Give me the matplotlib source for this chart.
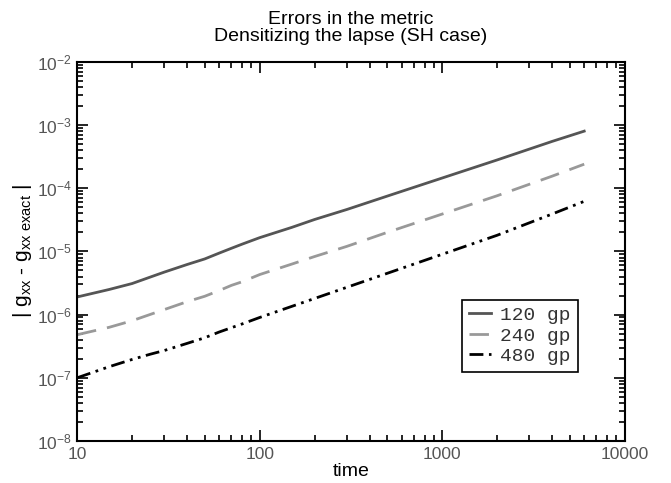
import numpy as np
import matplotlib
matplotlib.use("Agg")
from matplotlib import pyplot as plt

plt.rcParams['font.family'] = ['Liberation Sans', 'DejaVu Sans']
plt.rcParams['mathtext.fontset'] = 'custom'
plt.rcParams['mathtext.rm'] = 'Liberation Sans'
plt.rcParams['mathtext.it'] = 'Liberation Sans'

# values
time = [10, 15, 20, 25, 30, 40, 50, 60, 70, 80, 100, 150, 200, 300, 500, 1000, 2000, 4000, 6000]
err_120 = [1.9e-6, 2.5e-6, 3.1e-6, 3.9e-6, 4.7e-6, 6.2e-6, 7.6e-6, 9.4e-6, 1.12e-5, 1.3e-5, 1.65e-5,
           2.4e-5, 3.2e-5, 4.6e-5, 7.5e-5, 1.45e-4, 2.8e-4, 5.5e-4, 8.0e-4]
err_240 = [4.8e-7, 6.3e-7, 8.0e-7, 1.0e-6, 1.2e-6, 1.6e-6, 1.95e-6, 2.4e-6, 2.9e-6, 3.3e-6, 4.3e-6,
           6.3e-6, 8.3e-6, 1.2e-5, 2.0e-5, 3.9e-5, 7.6e-5, 1.55e-4, 2.4e-4]
err_480 = [1.0e-7, 1.5e-7, 1.95e-7, 2.35e-7, 2.7e-7, 3.5e-7, 4.3e-7, 5.3e-7, 6.2e-7, 7.1e-7, 9.0e-7,
           1.35e-6, 1.8e-6, 2.7e-6, 4.5e-6, 9.0e-6, 1.8e-5, 3.9e-5, 6.2e-5]
labels = ['120 gp', '240 gp', '480 gp']

fig = plt.figure(figsize=(6.71, 4.83), dpi=100)
ax = fig.add_axes([0.115, 0.087, 0.816, 0.785])

ax.plot(time, err_120, color='#555555', lw=2, ls='-', label=labels[0])
ax.plot(time, err_240, color='#999999', lw=2, ls=(0, (7, 4)), label=labels[1])
ax.plot(time, err_480, color='black', lw=2, ls=(0, (5, 2, 1, 2, 1, 2)), label=labels[2])

ax.set_xscale('log')
ax.set_yscale('log')
ax.set_xlim(10, 10000)
ax.set_ylim(1e-8, 1e-2)

ax.xaxis.set_major_formatter(matplotlib.ticker.FuncFormatter(lambda v, p: '%d' % v))
ax.xaxis.set_minor_formatter(matplotlib.ticker.NullFormatter())
ax.yaxis.set_minor_formatter(matplotlib.ticker.NullFormatter())
ax.tick_params(which='both', direction='in', top=True, right=True, colors='black',
               labelcolor='#555555', labelsize=12.5, width=1.2)
ax.tick_params(which='major', length=8, pad=4)
ax.tick_params(which='minor', length=4.3)
for s in ax.spines.values():
    s.set_linewidth(1.5)

ax.set_xlabel('time', fontsize=14, labelpad=1)
ax.set_ylabel(r'| $\mathregular{g_{xx}}$ - $\mathregular{g_{xx\ exact}}$ |', fontsize=15, labelpad=2)
ax.set_title('Errors in the metric\nDensitizing the lapse (SH case)', fontsize=14, linespacing=1.0, pad=15)

leg = ax.legend(loc='lower right', bbox_to_anchor=(0.914, 0.182), borderaxespad=0,
                prop={'family': 'Liberation Mono', 'size': 14},
                frameon=True, fancybox=False, edgecolor='black', handlelength=1.1, borderpad=0.35,
                labelspacing=0.15, handletextpad=0.5, framealpha=1)
leg.get_frame().set_linewidth(1.2)
for t in leg.get_texts():
    t.set_color('#333333')

fig.savefig('out.png', dpi=100)
